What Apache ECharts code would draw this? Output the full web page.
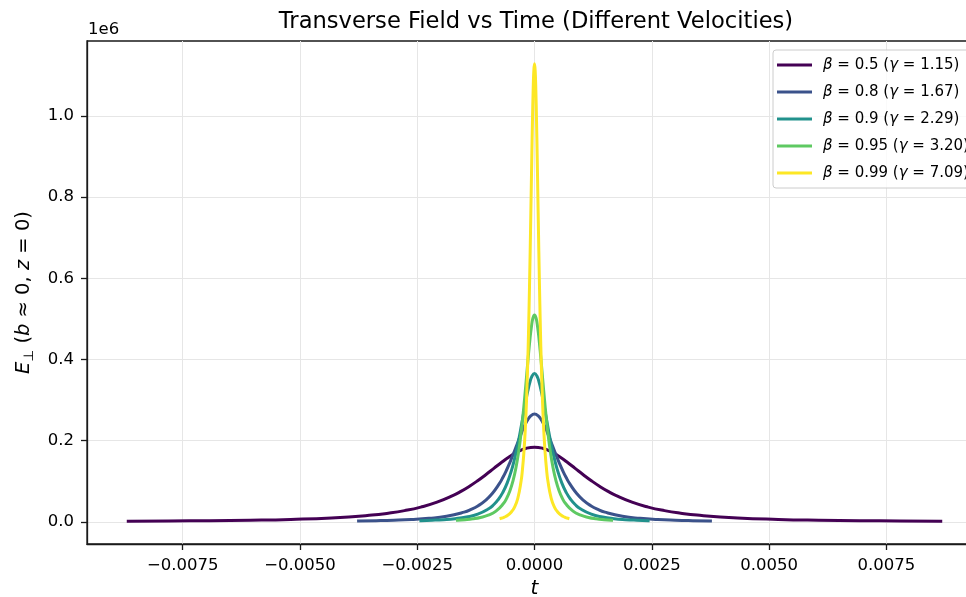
<!DOCTYPE html>
<html>
<head>
<meta charset="utf-8">
<script src="https://cdn.jsdelivr.net/npm/echarts@6/dist/echarts.min.js"></script>
<style>html,body{margin:0;padding:0;background:#fff}#c{width:966px;height:597px}</style>
</head>
<body>
<div id="c"></div>
<script>
// ---- data (E in units of 1e6) ----
const seriesNames = ['β = 0.5 (γ = 1.15)', 'β = 0.8 (γ = 1.67)', 'β = 0.9 (γ = 2.29)', 'β = 0.95 (γ = 3.20)', 'β = 0.99 (γ = 7.09)'];
const seriesColors = ['#440154', '#3b528b', '#21918c', '#5ec962', '#fde725'];

const t05 = [-0.0086603,-0.0077942,-0.0069282,-0.0060622,-0.0051962,-0.0043301,-0.0034641,-0.0031177,-0.0027713,-0.0024249,-0.0020785,-0.0017321,-0.0015588,-0.0013856,-0.0012124,-0.0010392,-0.0008660,-0.0006928,-0.0005196,-0.0003464,-0.0001732,0,0.0001732,0.0003464,0.0005196,0.0006928,0.0008660,0.0010392,0.0012124,0.0013856,0.0015588,0.0017321,0.0020785,0.0024249,0.0027713,0.0031177,0.0034641,0.0043301,0.0051962,0.0060622,0.0069282,0.0077942,0.0086603];
const e05 = [0.00139,0.00188,0.00262,0.00381,0.00581,0.00942,0.01644,0.02105,0.02737,0.03609,0.04823,0.06498,0.07548,0.08751,0.10105,0.11589,0.13152,0.14712,0.16151,0.17330,0.18108,0.1838,0.18108,0.17330,0.16151,0.14712,0.13152,0.11589,0.10105,0.08751,0.07548,0.06498,0.04823,0.03609,0.02737,0.02105,0.01644,0.00942,0.00581,0.00381,0.00262,0.00188,0.00139];

const t08 = [-0.00375,-0.003375,-0.003,-0.002625,-0.00225,-0.001875,-0.0015,-0.00135,-0.0012,-0.00105,-0.0009,-0.00075,-0.000675,-0.0006,-0.000525,-0.00045,-0.000375,-0.0003,-0.000225,-0.00015,-0.000075,0,0.000075,0.00015,0.000225,0.0003,0.000375,0.00045,0.000525,0.0006,0.000675,0.00075,0.0009,0.00105,0.0012,0.00135,0.0015,0.001875,0.00225,0.002625,0.003,0.003375,0.00375];
const e08 = [0.00200,0.00271,0.00379,0.00550,0.00839,0.01359,0.02373,0.03039,0.03950,0.05210,0.06961,0.09380,0.10895,0.12632,0.14586,0.16727,0.18983,0.21235,0.23313,0.25014,0.26137,0.2653,0.26137,0.25014,0.23313,0.21235,0.18983,0.16727,0.14586,0.12632,0.10895,0.09380,0.06961,0.05210,0.03950,0.03039,0.02373,0.01359,0.00839,0.00550,0.00379,0.00271,0.00200];

const t09 = [-0.0024216,-0.0021794,-0.0019373,-0.0016951,-0.0014530,-0.0012108,-0.0009686,-0.0008718,-0.0007749,-0.0006780,-0.0005812,-0.0004843,-0.0004359,-0.0003875,-0.0003390,-0.0002906,-0.0002422,-0.0001937,-0.0001453,-0.0000969,-0.0000484,0,0.0000484,0.0000969,0.0001453,0.0001937,0.0002422,0.0002906,0.0003390,0.0003875,0.0004359,0.0004843,0.0005812,0.0006780,0.0007749,0.0008718,0.0009686,0.0012108,0.0014530,0.0016951,0.0019373,0.0021794,0.0024216];
const e09 = [0.00275,0.00373,0.00521,0.00757,0.01154,0.01871,0.03266,0.04182,0.05436,0.07170,0.09580,0.12908,0.14994,0.17384,0.20073,0.23020,0.26124,0.29224,0.32083,0.34424,0.35969,0.3651,0.35969,0.34424,0.32083,0.29224,0.26124,0.23020,0.20073,0.17384,0.14994,0.12908,0.09580,0.07170,0.05436,0.04182,0.03266,0.01871,0.01154,0.00757,0.00521,0.00373,0.00275];

const t095 = [-0.0016434,-0.0014791,-0.0013147,-0.0011504,-0.0009860,-0.0008217,-0.0006574,-0.0005916,-0.0005259,-0.0004602,-0.0003944,-0.0003287,-0.0002958,-0.0002629,-0.0002301,-0.0001972,-0.0001643,-0.0001315,-0.0000986,-0.0000657,-0.0000329,0,0.0000329,0.0000657,0.0000986,0.0001315,0.0001643,0.0001972,0.0002301,0.0002629,0.0002958,0.0003287,0.0003944,0.0004602,0.0005259,0.0005916,0.0006574,0.0008217,0.0009860,0.0011504,0.0013147,0.0014791,0.0016434];
const e095 = [0.00384,0.00520,0.00727,0.01057,0.01612,0.02612,0.04559,0.05838,0.07589,0.10010,0.13374,0.18021,0.20932,0.24268,0.28023,0.32137,0.36471,0.40798,0.44789,0.48058,0.50215,0.5097,0.50215,0.48058,0.44789,0.40798,0.36471,0.32137,0.28023,0.24268,0.20932,0.18021,0.13374,0.10010,0.07589,0.05838,0.04559,0.02612,0.01612,0.01057,0.00727,0.00520,0.00384];

const t099 = [-0.0007125,-0.0006412,-0.0005700,-0.0004987,-0.0004275,-0.0003562,-0.0002850,-0.0002565,-0.0002280,-0.0001995,-0.0001710,-0.0001425,-0.0001282,-0.0001140,-0.0000997,-0.0000855,-0.0000712,-0.0000570,-0.0000427,-0.0000285,-0.0000142,0,0.0000142,0.0000285,0.0000427,0.0000570,0.0000712,0.0000855,0.0000997,0.0001140,0.0001282,0.0001425,0.0001710,0.0001995,0.0002280,0.0002565,0.0002850,0.0003562,0.0004275,0.0004987,0.0005700,0.0006412,0.0007125];
const e099 = [0.00851,0.01152,0.01610,0.02340,0.03567,0.05781,0.10091,0.12922,0.16798,0.22156,0.29602,0.39888,0.46332,0.53717,0.62028,0.71134,0.80727,0.90305,0.99139,1.06374,1.11148,1.1282,1.11148,1.06374,0.99139,0.90305,0.80727,0.71134,0.62028,0.53717,0.46332,0.39888,0.29602,0.22156,0.16798,0.12922,0.10091,0.05781,0.03567,0.02340,0.01610,0.01152,0.00851];

const xTicks = [-0.0075, -0.005, -0.0025, 0, 0.0025, 0.005, 0.0075];
const yTicks = [0, 0.2, 0.4, 0.6, 0.8, 1.0];

const tSets = [t05, t08, t09, t095, t099];
const eSets = [e05, e08, e09, e095, e099];

const FONT = 'DejaVu Sans';
const chart = echarts.init(document.getElementById('c'), null, {renderer: 'canvas'});

const series = seriesNames.map((name, i) => ({
  name: name,
  type: 'line',
  data: tSets[i].map((t, j) => [t, eSets[i][j]]),
  showSymbol: false,
  symbol: 'none',
  smooth: 0.5,
  sampling: null,
  lineStyle: {width: 3, color: seriesColors[i], cap: 'square', join: 'round'},
  itemStyle: {color: seriesColors[i]},
  z: 2 + i
}));

chart.setOption({
  animation: false,
  backgroundColor: '#fff',
  textStyle: {fontFamily: FONT},
  grid: {left: 87, width: 895, top: 41, height: 503, outerBoundsMode: 'none', containLabel: false,
    show: true, borderColor: '#1a1a1a', borderWidth: 1.3, backgroundColor: 'transparent'},
  graphic: [
    {type: 'text', x: 536, y: 11, style: {text: 'Transverse Field vs Time (Different Velocities)', font: '22.6px "DejaVu Sans"', fill: '#000', textAlign: 'center', textVerticalAlign: 'top'}},
    {type: 'text', x: 88, y: 21, style: {text: '1e6', font: '16.5px "DejaVu Sans"', fill: '#000', textAlign: 'left', textVerticalAlign: 'top'}}
  ],
  legend: {
    left: 773, top: 50, orient: 'vertical',
    icon: 'rect', itemWidth: 35, itemHeight: 3, itemGap: 9,
    padding: [6, 8, 6, 4],
    backgroundColor: 'rgba(255,255,255,0.8)', borderColor: '#cccccc', borderWidth: 1, borderRadius: 3,
    formatter: n => n.replace('β', '{i|β}').replace('γ', '{i|γ}'),
    textStyle: {fontFamily: FONT, fontSize: 15, color: '#000', lineHeight: 18, padding: [0, 0, 0, 6],
      rich: {i: {fontFamily: FONT, fontStyle: 'italic', fontSize: 15, color: '#000', lineHeight: 18}}}
  },
  xAxis: {
    type: 'value', min: -0.00954, max: 0.00954,
    name: 't', nameLocation: 'middle', nameGap: 33,
    nameTextStyle: {fontFamily: FONT, fontStyle: 'italic', fontSize: 20, color: '#000'},
    axisLine: {show: true, onZero: false, lineStyle: {color: '#1a1a1a', width: 1.3}},
    axisTick: {show: true, length: 6, customValues: xTicks, lineStyle: {color: '#1a1a1a', width: 1.3}},
    axisLabel: {customValues: xTicks, margin: 13, fontFamily: FONT, fontSize: 16.5, color: '#000',
      formatter: v => (v < 0 ? '\u2212' : '') + Math.abs(v).toFixed(4)},
    splitLine: {show: true, lineStyle: {color: '#e6e6e6', width: 1}}
  },
  yAxis: {
    type: 'value', min: -0.0548, max: 1.1845,
    name: '{i|E}{s|⊥} ({i|b} ≈ 0, {i|z} = 0)', nameLocation: 'middle', nameGap: 47, nameRotate: 90,
    nameTextStyle: {fontFamily: FONT, fontSize: 19.5, color: '#000', lineHeight: 26,
      rich: {
        i: {fontFamily: FONT, fontStyle: 'italic', fontSize: 19.5, color: '#000', lineHeight: 26},
        s: {fontFamily: FONT, fontSize: 13.5, color: '#000', lineHeight: 14, verticalAlign: 'bottom'}
      }},
    axisLine: {show: true, onZero: false, lineStyle: {color: '#1a1a1a', width: 1.3}},
    axisTick: {show: true, length: 6, customValues: yTicks, lineStyle: {color: '#1a1a1a', width: 1.3}},
    axisLabel: {customValues: yTicks, margin: 13, fontFamily: FONT, fontSize: 16.5, color: '#000',
      formatter: v => v.toFixed(1)},
    splitLine: {show: true, lineStyle: {color: '#e6e6e6', width: 1}}
  },
  series: series
});
</script>
</body>
</html>
